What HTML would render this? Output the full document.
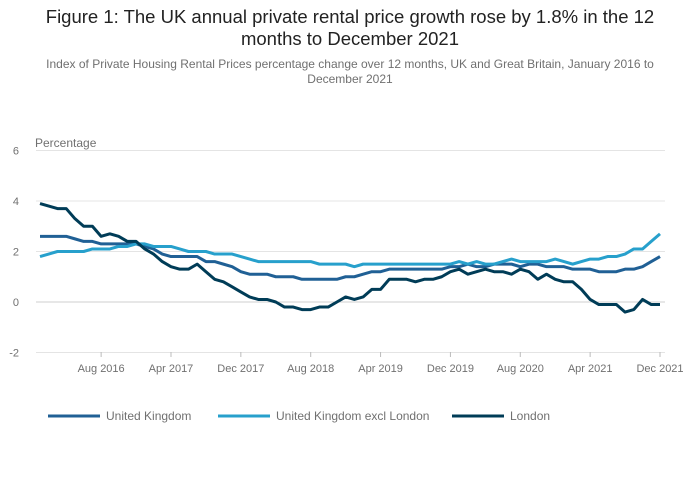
<!DOCTYPE html>
<html><head><meta charset="utf-8"><style>
body{margin:0;background:#fff;font-family:"Liberation Sans",sans-serif;}
#wrap{position:relative;width:700px;height:502px;overflow:hidden}
.t{position:absolute;left:0;width:700px;text-align:center}
</style></head><body>
<div id="wrap">
<div class="t" style="top:6px;font-size:18.5px;line-height:22px;color:#222">Figure 1: The UK annual private rental price growth rose by 1.8% in the 12<br>months to December 2021</div>
<div class="t" style="top:57px;font-size:12px;line-height:15px;color:#707070">Index of Private Housing Rental Prices percentage change over 12 months, UK and Great Britain, January 2016 to<br>December 2021</div>
<svg id="svg" width="700" height="502" style="position:absolute;left:0;top:0"></svg>
</div>
<script>
const ticksY=[6,4,2,0,-2];
const tickLabelsX=["Aug 2016","Apr 2017","Dec 2017","Aug 2018","Apr 2019","Dec 2019","Aug 2020","Apr 2021","Dec 2021"];
const tickIdxX=[7,15,23,31,39,47,55,63,71];
const seriesNames=["United Kingdom","United Kingdom excl London","London"];
const uk=[2.6,2.6,2.6,2.6,2.5,2.4,2.4,2.3,2.3,2.3,2.3,2.3, 2.2,2.1,1.9,1.8,1.8,1.8,1.8,1.6,1.6,1.5,1.4,1.2, 1.1,1.1,1.1,1.0,1.0,1.0,0.9,0.9,0.9,0.9,0.9,1.0, 1.0,1.1,1.2,1.2,1.3,1.3,1.3,1.3,1.3,1.3,1.3,1.4, 1.4,1.5,1.4,1.4,1.5,1.5,1.5,1.4,1.5,1.5,1.4,1.4, 1.4,1.3,1.3,1.3,1.2,1.2,1.2,1.3,1.3,1.4,1.6,1.8];
const exLondon=[1.8,1.9,2.0,2.0,2.0,2.0,2.1,2.1,2.1,2.2,2.2,2.3, 2.3,2.2,2.2,2.2,2.1,2.0,2.0,2.0,1.9,1.9,1.9,1.8, 1.7,1.6,1.6,1.6,1.6,1.6,1.6,1.6,1.5,1.5,1.5,1.5, 1.4,1.5,1.5,1.5,1.5,1.5,1.5,1.5,1.5,1.5,1.5,1.5, 1.6,1.5,1.6,1.5,1.5,1.6,1.7,1.6,1.6,1.6,1.6,1.7, 1.5,1.6,1.5,1.6,1.7,1.7,1.8,1.8,1.9,2.1,2.1,2.3,2.7].slice(0,60).concat([1.6,1.5,1.6,1.7,1.7,1.8,1.8,1.9,2.1,2.1,2.4,2.7]);
const london=[3.9,3.8,3.7,3.7,3.3,3.0,3.0,2.6,2.7,2.6,2.4,2.4, 2.1,1.9,1.6,1.4,1.3,1.3,1.5,1.2,0.9,0.8,0.6,0.4, 0.2,0.1,0.1,0.0,-0.2,-0.2,-0.3,-0.3,-0.2,-0.2,0.0,0.2, 0.1,0.2,0.5,0.5,0.9,0.9,0.9,0.8,0.9,0.9,1.0,1.2, 1.3,1.1,1.2,1.3,1.2,1.2,1.1,1.3,1.2,0.9,1.1,0.9, 0.8,0.8,0.5,0.1,-0.1,-0.1,-0.1,-0.4,-0.3,0.1,-0.1,-0.1];
const colors=["#206095","#27a0cc","#003c57"];
const svg=document.getElementById('svg');const NS="http://www.w3.org/2000/svg";
const X=i=>40+i*(620/71);const Y=v=>302-v*25.25;
function el(t,a){const e=document.createElementNS(NS,t);for(const k in a)e.setAttribute(k,a[k]);svg.appendChild(e);return e;}
ticksY.forEach(v=>{
 const g=el('line',{x1:36,x2:665,y1:Y(v),y2:Y(v),stroke:v==0?'#cfcfcf':'#e4e4e4','stroke-width':1});
 
 
 const t=el('text',{x:19,y:Y(v)+4,'font-size':11,fill:'#707070','text-anchor':'end'});t.textContent=v;
 
 
});
const yt=el('text',{x:35,y:147,'font-size':12,fill:'#707070'});yt.textContent="Percentage";


tickIdxX.forEach((idx,k)=>{
 const l=el('line',{x1:X(idx),x2:X(idx),y1:352,y2:357,stroke:'#bbb'});
 
 
 const t=el('text',{x:X(idx),y:372,'font-size':11,fill:'#707070','text-anchor':'middle'});t.textContent=tickLabelsX[k];
 
 
});
[uk,exLondon,london].forEach((s,k)=>{
 const p=el('polyline',{points:s.map((v,i)=>X(i)+','+Y(v)).join(' '),fill:'none',stroke:colors[k],'stroke-width':3,'stroke-linejoin':'round'});
 
 
});
const lx=[48,218,452];
seriesNames.forEach((n,k)=>{
 const l=el('line',{x1:lx[k],x2:lx[k]+52,y1:416,y2:416,stroke:colors[k],'stroke-width':3});
 
 
 const t=el('text',{x:lx[k]+58,y:420,'font-size':12,fill:'#707070'});t.textContent=n;
 
 
});
</script>
</body></html>
